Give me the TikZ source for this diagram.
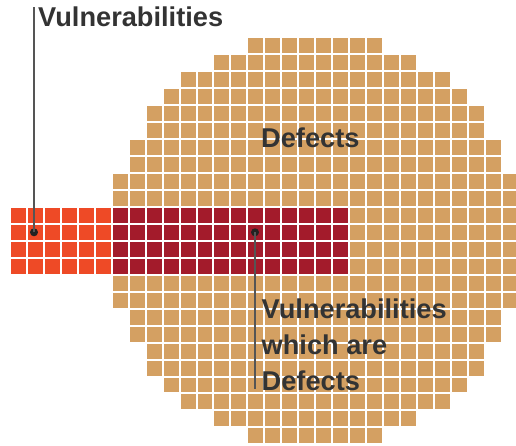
\documentclass[tikz,border=0pt]{standalone}
\usepackage{fontspec}
\setmainfont{Liberation Sans}
\definecolor{tanc}{HTML}{D4A062}
\definecolor{orangered}{HTML}{EE4A26}
\definecolor{darkredc}{HTML}{A31B2B}
\definecolor{txt}{HTML}{333333}
\definecolor{leader}{HTML}{555555}
\definecolor{dotc}{HTML}{222222}
\begin{document}
\begin{tikzpicture}[x=1pt,y=-1pt,
  lab/.style={anchor=base west,inner sep=0pt,text=txt,font=\fontsize{27.2}{32}\selectfont\bfseries},
  dotmark/.style={circle,fill=dotc,inner sep=0pt,minimum size=8pt},
  leaderline/.style={draw=leader,line width=1.5pt}]
\useasboundingbox (0,0) rectangle (516,445);
\def\px{111.7}\def\py{37.3}\def\pp{16.96}\def\cs{14.96}
% tan disc of cells
\foreach \r/\h in {0/4,1/6,2/8,3/9,4/10,5/10,6/11,7/11,8/12,9/12,10/12,11/12,12/12,13/12,14/12,15/12,16/11,17/11,18/10,19/10,20/9,21/8,22/6,23/4}{
  \pgfmathtruncatemacro\a{12-\h}
  \pgfmathtruncatemacro\b{11+\h}
  \foreach \c in {\a,...,\b}{
    \fill[tanc] ({\px+\c*\pp+1},{\py+\r*\pp+1}) rectangle ++(\cs,\cs);
  }
}
% vulnerability band
\foreach \r in {10,...,13}{
  \foreach \c in {-6,...,-1}{
    \fill[orangered] ({\px+\c*\pp+1},{\py+\r*\pp+1}) rectangle ++(\cs,\cs);
  }
  \foreach \c in {0,...,13}{
    \fill[darkredc] ({\px+\c*\pp+1},{\py+\r*\pp+1}) rectangle ++(\cs,\cs);
  }
}
% labels
\node[lab] (vuln) at (38,26) {Vulnerabilities};
\node[lab] (defects) at (261,147) {Defects};
\node[lab] (both1) at (261.5,318) {Vulnerabilities};
\node[lab] (both2) at (261.5,354.5) {which are};
\node[lab] (both3) at (261.5,390) {Defects};
% markers and leaders
\node[dotmark] (dot1) at (34,232.3) {};
\node[dotmark] (dot2) at (255,232.3) {};
\coordinate (top1) at (34,6.5);
\coordinate (bot2) at (255,389);
\draw[leaderline] (dot1.center) -- (top1);
\draw[leaderline] (dot2.center) -- (bot2);
\end{tikzpicture}
\end{document}
